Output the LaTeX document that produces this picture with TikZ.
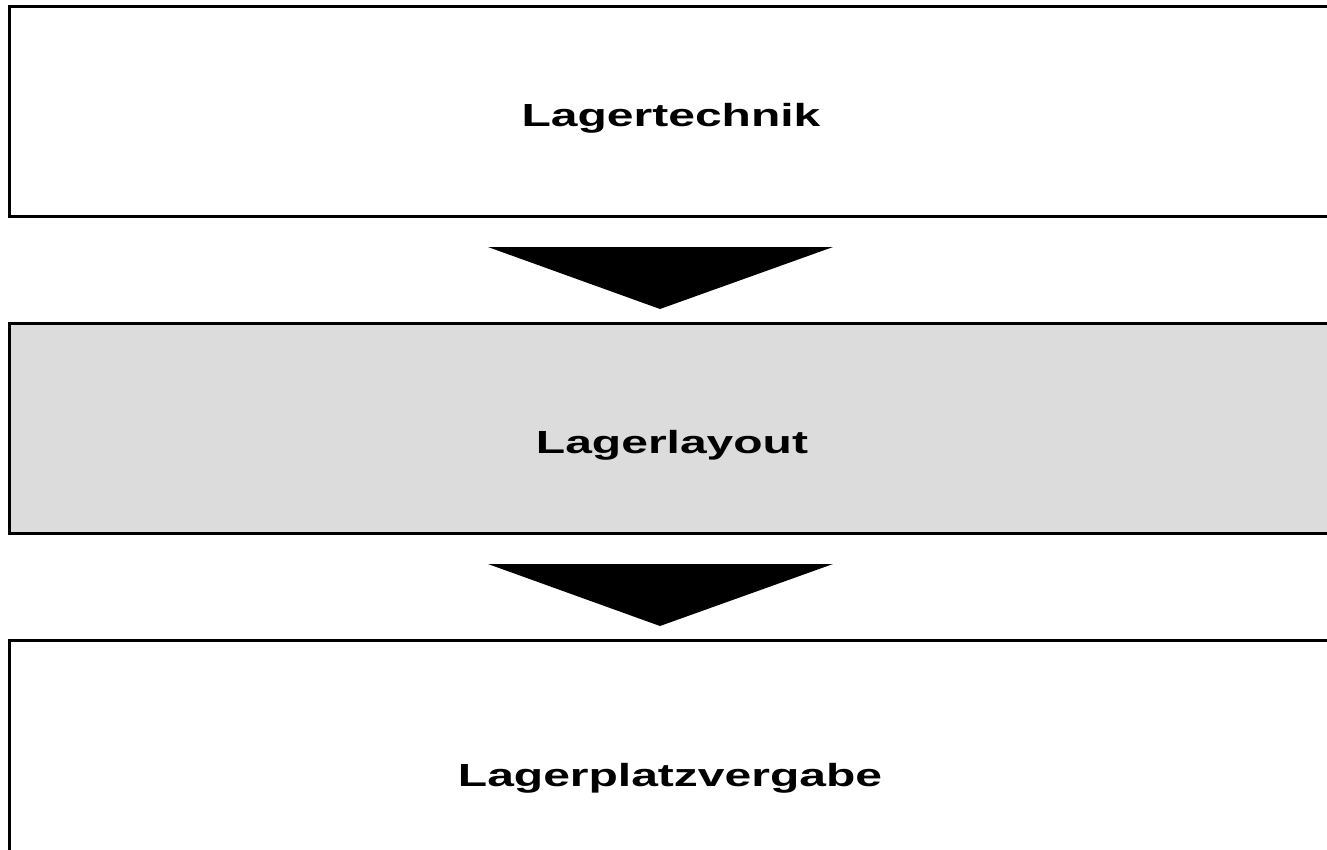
\documentclass[tikz,border=0pt]{standalone}
\usepackage{fontspec}
\setmainfont{Liberation Sans}
\definecolor{boxgray}{HTML}{DCDCDC}
\begin{document}
\begin{tikzpicture}[x=1pt,y=-1pt,
  box/.style={draw=black,line width=3pt},
  lbl/.style={font=\bfseries\fontsize{32}{38}\selectfont,anchor=base,inner sep=0pt,xscale=1.5},
  arrowtri/.style={fill=black}]
\useasboundingbox (0,0) rectangle (1327,849);
\clip (0,0) rectangle (1327,849);
\fill[white] (0,0) rectangle (1327,849);
% boxes
\draw[box] (9.5,6.5) rectangle (1345,216.5);
\draw[box,fill=boxgray] (9.5,323.5) rectangle (1345,533);
\draw[box] (9.5,640) rectangle (1345,870);
% labels
\node[lbl] (t1) at (671,126) {Lagertechnik};
\node[lbl] (t2) at (672,453) {Lagerlayout};
\node[lbl] (t3) at (670,786) {Lagerplatzvergabe};
% arrows
\fill[arrowtri] (488,247) -- (833,247) -- (660,309) -- cycle;
\fill[arrowtri] (488,564) -- (833,564) -- (660,626) -- cycle;
\end{tikzpicture}
\end{document}
